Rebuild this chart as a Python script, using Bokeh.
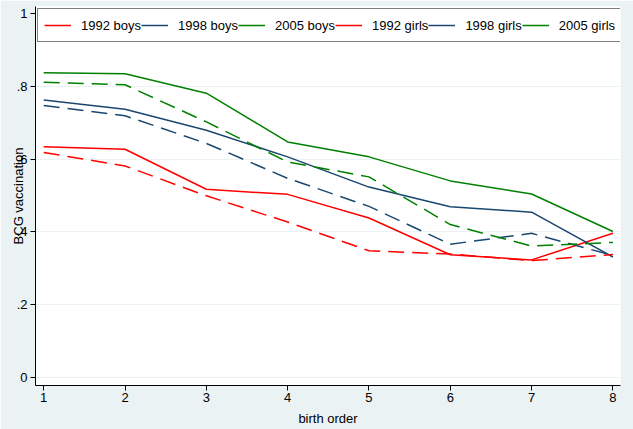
from bokeh.plotting import figure
from bokeh.models import FixedTicker, Legend, LegendItem, Range1d
from bokeh.embed import file_html
from bokeh.resources import INLINE

# BCG vaccination share by birth order, survey year and sex
birth_order = [1, 2, 3, 4, 5, 6, 7, 8]
boys_1992 = [0.634, 0.627, 0.517, 0.503, 0.438, 0.337, 0.323, 0.396]
boys_1998 = [0.762, 0.737, 0.679, 0.606, 0.523, 0.469, 0.454, 0.331]
boys_2005 = [0.837, 0.834, 0.781, 0.647, 0.606, 0.540, 0.504, 0.401]
girls_1992 = [0.618, 0.581, 0.499, 0.427, 0.348, 0.339, 0.321, 0.338]
girls_1998 = [0.747, 0.719, 0.643, 0.547, 0.470, 0.366, 0.396, 0.335]
girls_2005 = [0.811, 0.804, 0.702, 0.592, 0.551, 0.420, 0.361, 0.371]

y_ticks = [0, 0.2, 0.4, 0.6, 0.8, 1]
y_tick_labels = ["0", ".2", ".4", ".6", ".8", "1"]

RED = "#FF0000"
NAVY = "#1A476F"
GREEN = "#008000"
BG = "#EAF2F3"
FONT = "Liberation Sans"
FS = "13px"

p = figure(
    width=633, height=429,
    x_range=Range1d(0.899, 8.093), y_range=Range1d(-0.022, 1.019),
    output_backend="svg", toolbar_location=None,
    min_border_left=35, min_border_right=13,
    min_border_top=6, min_border_bottom=44,
)
p.background_fill_color = "white"
p.border_fill_color = BG
p.outline_line_color = None

series = [
    ("1992 boys", boys_1992, RED, "solid"),
    ("1998 boys", boys_1998, NAVY, "solid"),
    ("2005 boys", boys_2005, GREEN, "solid"),
    ("1992 girls", girls_1992, RED, "16 8"),
    ("1998 girls", girls_1998, NAVY, "16 8"),
    ("2005 girls", girls_2005, GREEN, "16 8"),
]

items = []
for label, vals, color, dash in series:
    p.line(birth_order, vals, line_color=color, line_width=1.5, line_dash=dash)
    # one-point solid line used only as the legend key
    key = p.line(birth_order[:1], vals[:1], line_color=color, line_width=1.5)
    items.append(LegendItem(label=label, renderers=[key]))

legend = Legend(
    items=items, orientation="horizontal", location="top_left",
    margin=2, padding=6, spacing=0,
    glyph_width=27, glyph_height=20, label_standoff=10,
    label_text_font=FONT, label_text_font_size=FS, label_text_color="black",
    border_line_color="black", border_line_width=1,
    background_fill_color="white", background_fill_alpha=1,
)
p.add_layout(legend)

# axes
p.xaxis.ticker = FixedTicker(ticks=birth_order)
p.yaxis.ticker = FixedTicker(ticks=y_ticks)
p.yaxis.major_label_overrides = {t: s for t, s in zip(y_ticks, y_tick_labels)}
p.yaxis.major_label_orientation = "horizontal"
p.xaxis.axis_label = "birth order"
p.yaxis.axis_label = "BCG vaccination"
p.yaxis.axis_label_standoff = -12
p.xaxis.axis_label_standoff = 6

for ax in (p.xaxis, p.yaxis):
    ax.axis_line_color = "black"
    ax.major_tick_line_color = "black"
    ax.major_tick_out = 5
    ax.major_tick_in = 0
    ax.minor_tick_line_color = None
    ax.major_label_text_font = FONT
    ax.major_label_text_font_size = FS
    ax.major_label_text_color = "black"
    ax.axis_label_text_font = FONT
    ax.axis_label_text_font_size = FS
    ax.axis_label_text_font_style = "normal"
    ax.axis_label_text_color = "black"

p.xaxis.major_label_standoff = 2
p.yaxis.major_label_standoff = 3

p.xgrid.grid_line_color = None
p.ygrid.ticker = FixedTicker(ticks=y_ticks)
p.ygrid.grid_line_color = BG
p.ygrid.grid_line_width = 1

open("out.html", "w").write(file_html(p, INLINE))
